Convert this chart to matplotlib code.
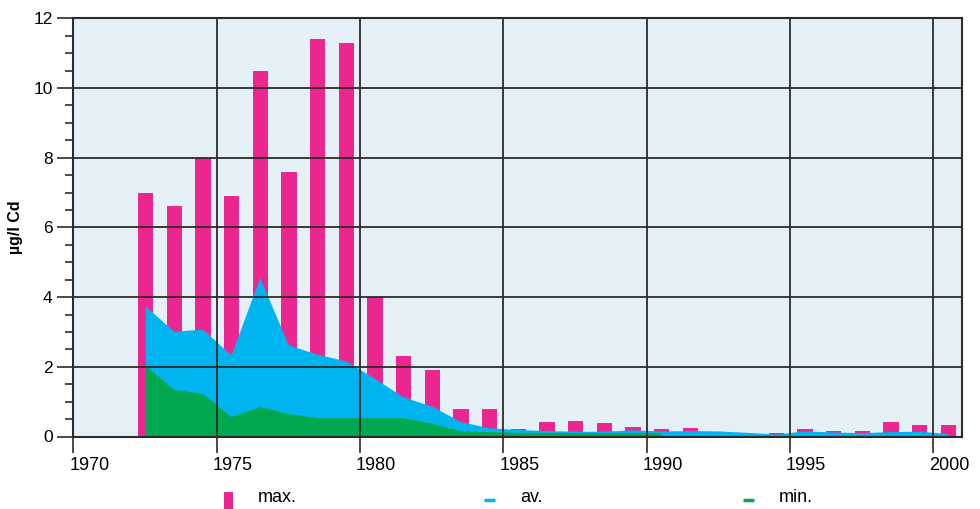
import matplotlib
matplotlib.use("Agg")
import matplotlib.pyplot as plt
from matplotlib.patches import Rectangle
from matplotlib.lines import Line2D
from matplotlib.transforms import ScaledTranslation
import numpy as np

plt.rcParams['font.family'] = ['Liberation Sans', 'DejaVu Sans']

PINK = '#EC268F'
BLUE = '#00B5EF'
GREEN = '#00A94F'
BG = '#E4EFF6'
GRID = '#2b2b2b'

# cadmium concentrations per year (ug/l)
years = list(range(1972, 2001))
cd_max = [7.0, 6.6, 8.0, 6.9, 10.5, 7.6, 11.4, 11.3, 4.0, 2.3,
          1.9, 0.8, 0.8, 0.21, 0.41, 0.44, 0.39, 0.27, 0.21, 0.24,
          0.12, 0.07, 0.11, 0.21, 0.16, 0.16, 0.42, 0.33, 0.33]
cd_av = [3.75, 3.02, 3.08, 2.34, 4.56, 2.63, 2.36, 2.17, 1.67, 1.14,
         0.87, 0.43, 0.25, 0.2, 0.17, 0.15, 0.15, 0.19, 0.16, 0.17,
         0.16, 0.12, 0.07, 0.16, 0.13, 0.11, 0.14, 0.15, 0.09]
min_years = list(range(1972, 1991))
cd_min = [2.05, 1.35, 1.24, 0.57, 0.86, 0.66, 0.54, 0.54, 0.54, 0.54,
          0.38, 0.17, 0.14, 0.12, 0.12, 0.11, 0.11, 0.11, 0.11]

x_ticks = [1970, 1975, 1980, 1985, 1990, 1995, 2000]
y_ticks = [0, 2, 4, 6, 8, 10, 12]

W, H = 980, 509
fig = plt.figure(figsize=(W / 100, H / 100), dpi=100)
ax = fig.add_axes([73.4 / W, 1 - 436.5 / H, (962 - 73.4) / W, (436.5 - 18.3) / H])
ax.set_facecolor(BG)

xs = np.array(years) + 0.5
ax.bar(xs + 0.02, cd_max, width=0.53, color=PINK, linewidth=0, zorder=1)
ax.fill_between(xs, 0, cd_av, color=BLUE, linewidth=0, zorder=1.2)
ax.fill_between(np.array(min_years) + 0.5, 0, cd_min, color=GREEN, linewidth=0, zorder=1.4)

ax.set_xlim(1970, 2001)
ax.set_ylim(0, 12)
ax.set_xticks(x_ticks)
ax.set_yticks(y_ticks)
ax.set_yticks(np.arange(0, 12.01, 0.5), minor=True)
ax.set_axisbelow(False)
ax.grid(True, which='major', color=GRID, linewidth=1.3)

for s in ax.spines.values():
    s.set_color(GRID)
    s.set_linewidth(1.5)

ax.tick_params(axis='y', which='major', length=11.5, width=1.2, color=GRID,
               labelsize=12.5, pad=3.5)
ax.tick_params(axis='y', which='minor', length=5.8, width=1.2, color=GRID)
ax.tick_params(axis='x', which='major', length=11.5, width=1.2, color=GRID,
               labelsize=13, pad=3.5)
for lbl in ax.get_xticklabels():
    lbl.set_horizontalalignment('left')
    lbl.set_transform(lbl.get_transform() + ScaledTranslation(-4 / 100, 0, fig.dpi_scale_trans))

ax.set_ylabel('µg/l Cd', fontsize=11.5, fontweight='bold', labelpad=7)

# legend row under the axes, drawn in pixel positions
def px(x, y):
    return x / W, 1 - y / H

fig.add_artist(Rectangle(px(224, 509), 9 / W, 17 / H, transform=fig.transFigure,
                         color=PINK, linewidth=0))
fig.text(*px(258, 498), 'max.', fontsize=13, va='center', ha='left')
fig.add_artist(Line2D([484 / W, 495 / W], [1 - 500 / H] * 2, transform=fig.transFigure,
                      color=BLUE, linewidth=2.5, solid_capstyle='butt'))
fig.text(*px(520, 498), 'av.', fontsize=13, va='center', ha='left')
fig.add_artist(Line2D([743 / W, 754 / W], [1 - 500 / H] * 2, transform=fig.transFigure,
                      color=GREEN, linewidth=2.5, solid_capstyle='butt'))
fig.text(*px(779, 498), 'min.', fontsize=13, va='center', ha='left')

fig.savefig('out.png', dpi=100)
